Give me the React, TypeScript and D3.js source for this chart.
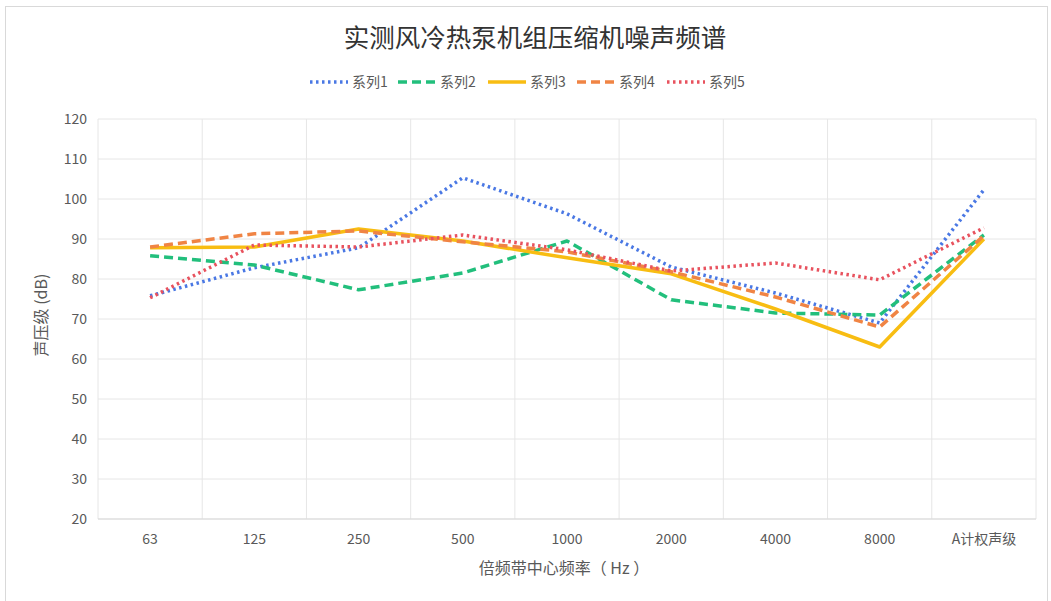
import React from "react";
import * as d3 from "d3";

const categories = ["63", "125", "250", "500", "1000", "2000", "4000", "8000", "A计权声级"];
const series1 = [75.8, 82.8, 87.8, 105.3, 96.3, 83, 76.5, 69, 102.3];
const series2 = [85.8, 83.5, 77.3, 81.5, 89.5, 74.8, 71.5, 71, 91];
const series3 = [87.8, 88, 92.5, 89.5, 85.3, 81.3, 72.5, 63, 90];
const series4 = [88, 91.3, 92, 89.3, 86.8, 81.8, 75.5, 68, 90.8];
const series5 = [75.3, 88.5, 88, 91, 87.3, 82, 84, 79.8, 92.8];
const seriesNames = ["系列1", "系列2", "系列3", "系列4", "系列5"];
const yTicks = [20, 30, 40, 50, 60, 70, 80, 90, 100, 110, 120];

const allSeries = [series1, series2, series3, series4, series5];
const styles = [
  { color: "#4a78e4", dash: "2.5 3.5", width: 3.5 },
  { color: "#22bf7c", dash: "9 5", width: 3.5 },
  { color: "#f8bd12", dash: "", width: 3.5 },
  { color: "#f08444", dash: "9 5", width: 3.5 },
  { color: "#e8525e", dash: "2.5 3.5", width: 3.5 },
];

const font = "'Microsoft YaHei', 'Noto Sans CJK SC', sans-serif";

export default function App() {
  const W = 1051, H = 601;
  const left = 98, right = 1036, top = 119, bottom = 519;
  const x = d3.scaleBand<string>().domain(categories).range([left, right]);
  const y = d3.scaleLinear().domain([20, 120]).range([bottom, top]);
  const line = d3
    .line<number>()
    .x((_, i) => (x(categories[i]) as number) + x.bandwidth() / 2)
    .y((d) => y(d));

  const legendX = [310, 398, 488, 577, 667];
  return (
    <svg width={W} height={H} style={{ position: "absolute", left: 0, top: 0, background: "#fff" }}>
      <rect x={5.5} y={6.5} width={1042} height={600} fill="#fff" stroke="#d9d9d9" />
      <text x={535} y={47} textAnchor="middle" fontSize={25.5} fill="#333" fontFamily={font}>
        实测风冷热泵机组压缩机噪声频谱
      </text>
      {seriesNames.map((n, i) => (
        <g key={n} transform={`translate(${legendX[i]},82)`}>
          <line x1={0} x2={38} y1={0} y2={0} stroke={styles[i].color} strokeWidth={3.5} strokeDasharray={styles[i].dash} />
          <text x={42} y={5} fontSize={14} fill="#595959" fontFamily={font}>{n}</text>
        </g>
      ))}
      {yTicks.map((t) => (
        <g key={t}>
          <line x1={left} x2={right} y1={y(t)} y2={y(t)} stroke="#e6e6e6" />
          <text x={87} y={y(t) + 5} textAnchor="end" fontSize={14} fill="#595959" fontFamily={font}>{t}</text>
        </g>
      ))}
      {categories.map((c) => (
        <line key={"g" + c} x1={(x(c) as number) + x.bandwidth()} x2={(x(c) as number) + x.bandwidth()} y1={top} y2={bottom} stroke="#e6e6e6" />
      ))}
      <line x1={left} x2={left} y1={top} y2={bottom} stroke="#e6e6e6" />
      <line x1={left} x2={right} y1={bottom} y2={bottom} stroke="#d9d9d9" />
      {categories.map((c) => (
        <text key={c} x={(x(c) as number) + x.bandwidth() / 2} y={544} textAnchor="middle" fontSize={14} fill="#595959" fontFamily={font}>{c}</text>
      ))}
      <text x={564} y={574} textAnchor="middle" fontSize={16} fill="#595959" fontFamily={font}>倍频带中心频率（ Hz ）</text>
      <text transform="translate(47,315) rotate(-90)" textAnchor="middle" fontSize={16} fill="#595959" fontFamily={font}>声压级 (dB)</text>
      {allSeries.map((s, i) => (
        <path key={i} d={line(s) as string} fill="none" stroke={styles[i].color} strokeWidth={styles[i].width} strokeDasharray={styles[i].dash} strokeLinejoin="round" />
      ))}
    </svg>
  );
}
